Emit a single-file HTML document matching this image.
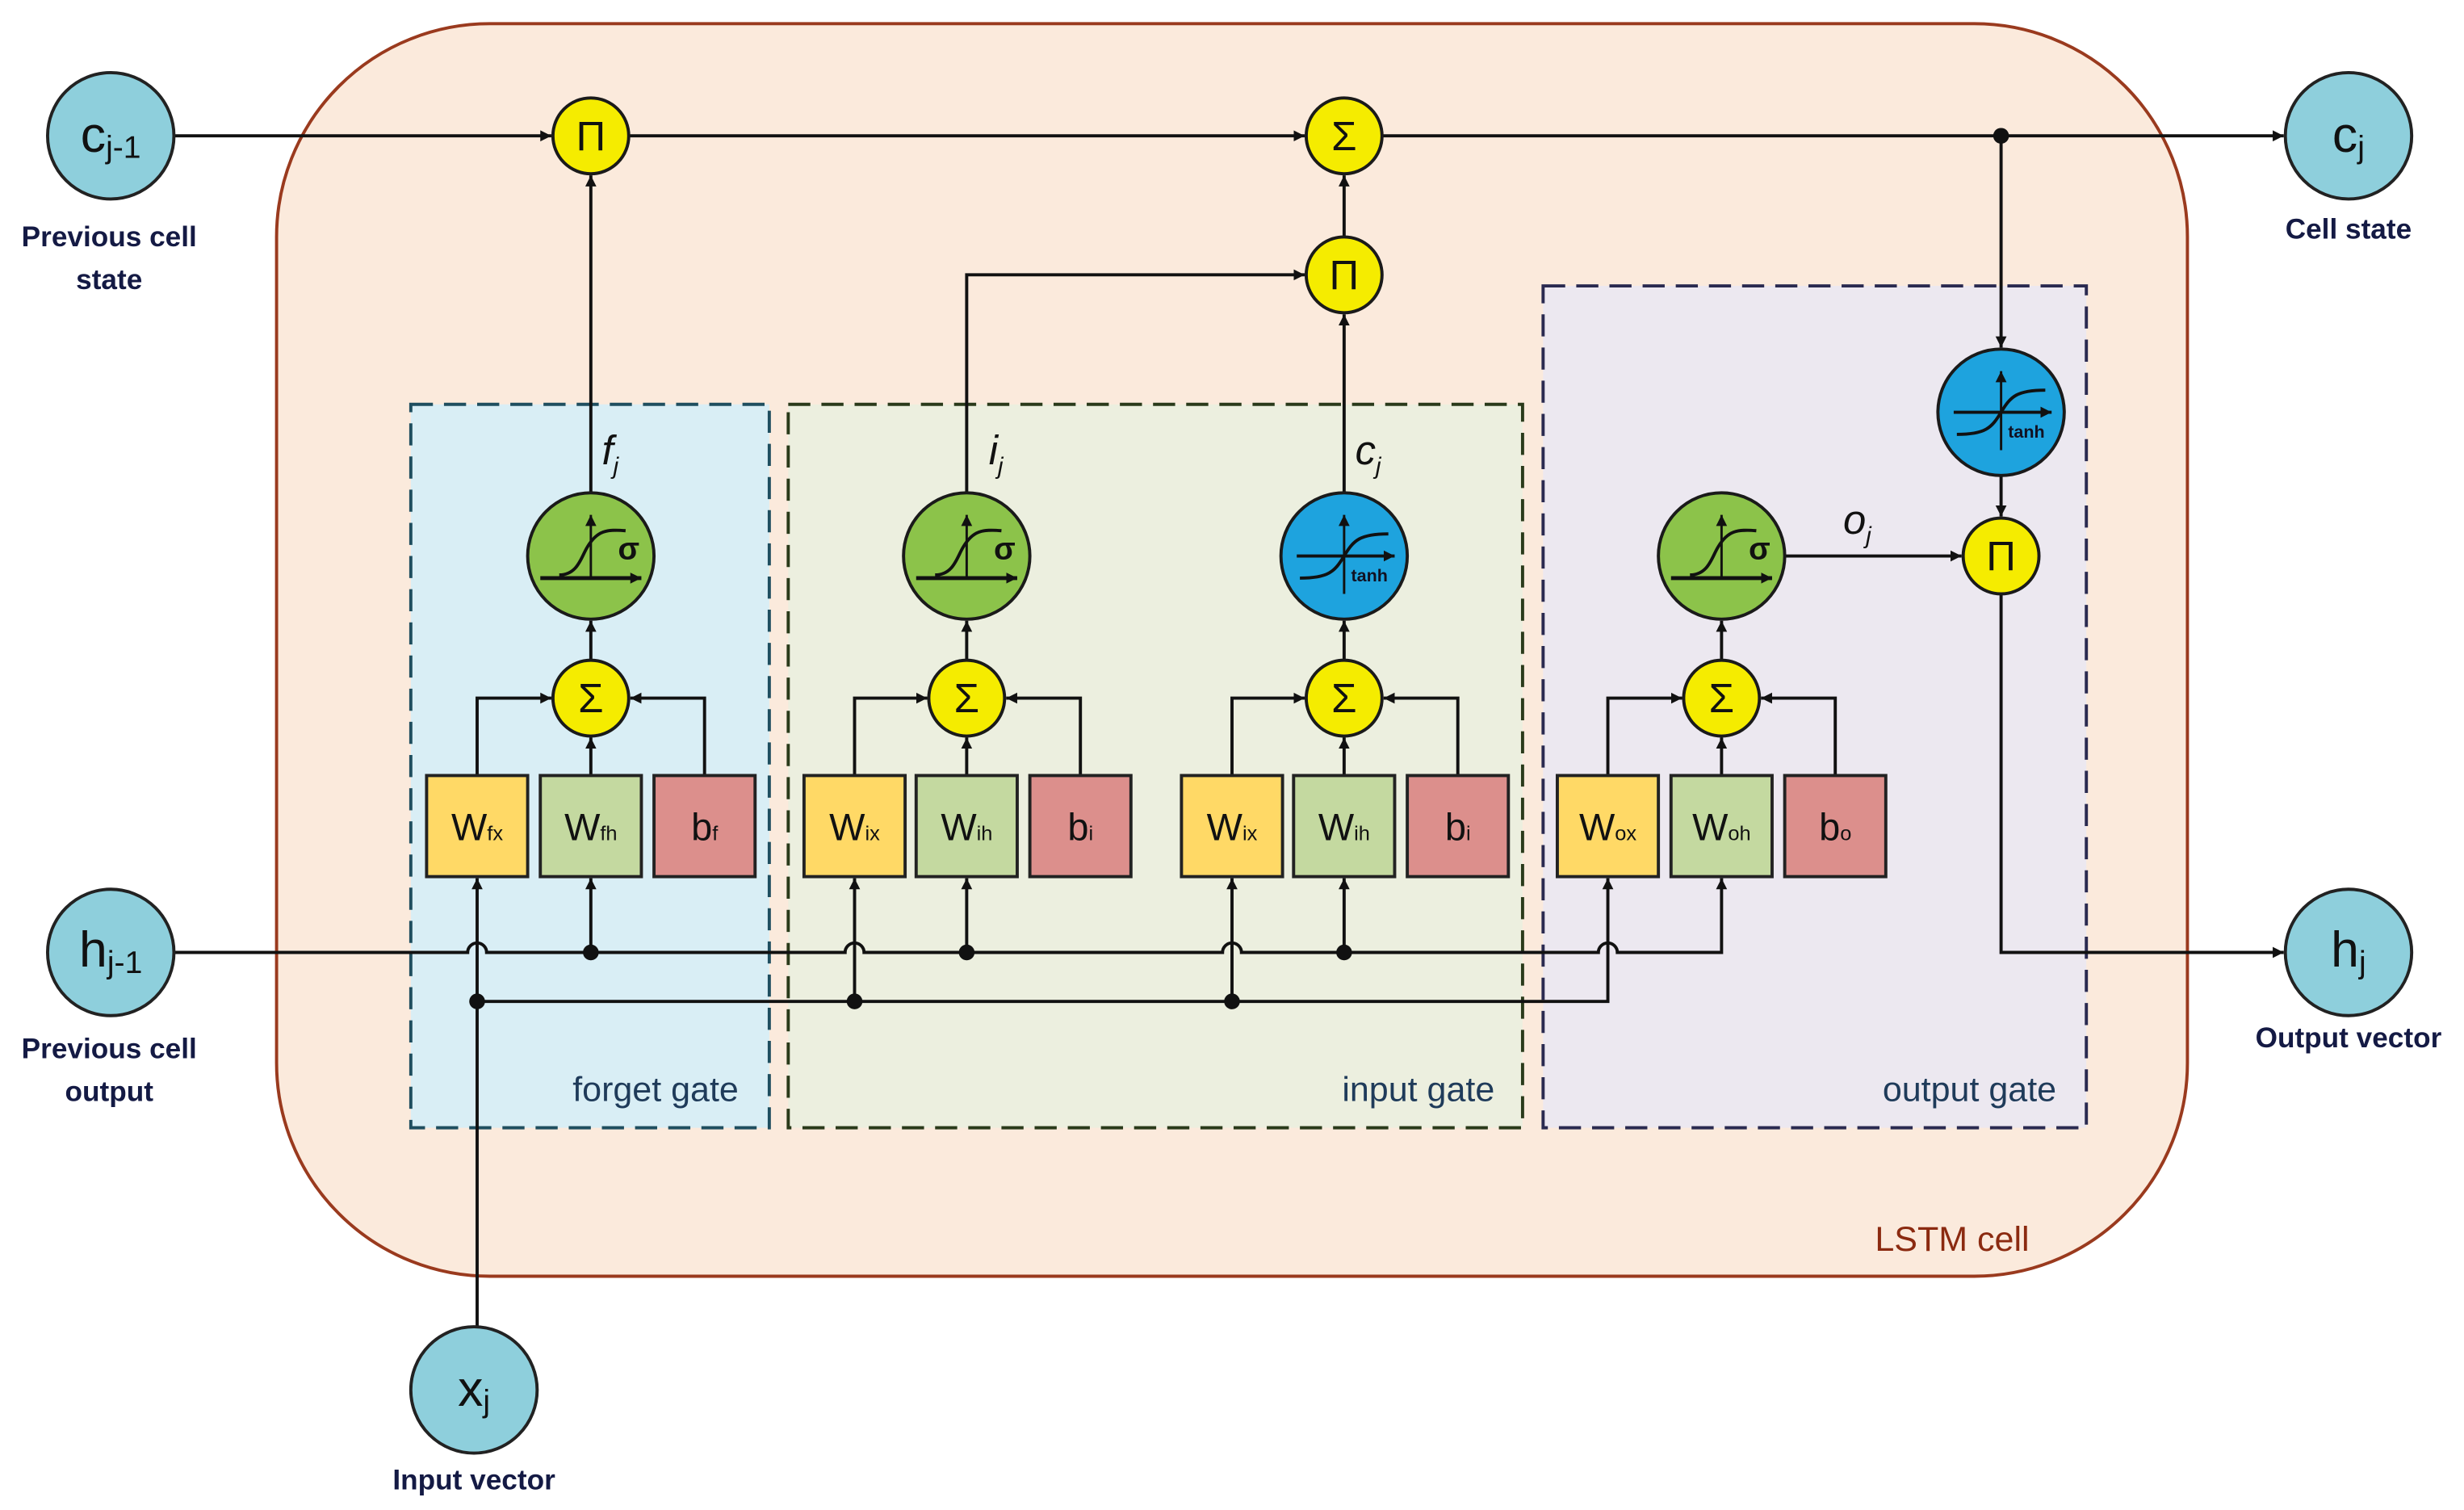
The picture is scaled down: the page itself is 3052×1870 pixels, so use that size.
<!DOCTYPE html>
<html><head><meta charset="utf-8"><style>
html,body{margin:0;padding:0;background:#fff;}
svg{display:block;}
text{font-family:"Liberation Sans",sans-serif;}
</style></head><body>
<svg width="3052" height="1870" viewBox="0 0 1560 956" xmlns="http://www.w3.org/2000/svg">
<defs>
<marker id="a" markerWidth="8" markerHeight="8" refX="7" refY="4" orient="auto" markerUnits="userSpaceOnUse">
<path d="M0,0.5 L7,4 L0,7.5 Z" fill="#111"/></marker>
<g id="sig">
<circle r="40" fill="#8cc34a" stroke="#1a1a1a" stroke-width="2"/>
<line x1="-32" y1="14" x2="32" y2="14" stroke="#111" stroke-width="2.5" marker-end="url(#a)"/>
<line x1="0" y1="14" x2="0" y2="-26" stroke="#111" stroke-width="1.5" marker-end="url(#a)"/>
<path d="M-20,12 C-8,12 -6,0 -2,-6 C4,-16 10,-17 22,-16" fill="none" stroke="#111" stroke-width="2"/>
<text x="24" y="2" font-size="20" font-weight="bold" fill="#111" text-anchor="middle">σ</text>
</g>
<g id="tanh">
<circle r="40" fill="#1ea3de" stroke="#1a1a1a" stroke-width="2"/>
<line x1="-30" y1="0" x2="32" y2="0" stroke="#111" stroke-width="2" marker-end="url(#a)"/>
<line x1="0" y1="24" x2="0" y2="-26" stroke="#111" stroke-width="1.5" marker-end="url(#a)"/>
<path d="M-28,14 C-10,14 -6,10 0,0 C6,-10 10,-14 28,-14" fill="none" stroke="#111" stroke-width="2"/>
<text x="16" y="16" font-size="11" font-weight="bold" fill="#112" text-anchor="middle">tanh</text>
</g>
</defs>

<!-- LSTM cell -->
<rect x="175" y="15" width="1210" height="793" rx="135" fill="#fbeadc" stroke="#9a3a1e" stroke-width="2"/>
<text x="1236" y="792" font-size="22" fill="#8b2a10" text-anchor="middle">LSTM cell</text>

<!-- gate boxes -->
<rect x="260" y="256" width="227" height="458" fill="#d9eef5" stroke="#1f4e5f" stroke-width="2" stroke-dasharray="14,7"/>
<rect x="499" y="256" width="465" height="458" fill="#ecefdf" stroke="#2a3a1a" stroke-width="2" stroke-dasharray="14,7"/>
<rect x="977" y="181" width="344" height="533" fill="#ece8f0" stroke="#2a2a50" stroke-width="2" stroke-dasharray="14,7"/>
<text x="415" y="697" font-size="22" fill="#1f3b5a" text-anchor="middle">forget gate</text>
<text x="898" y="697" font-size="22" fill="#1f3b5a" text-anchor="middle">input gate</text>
<text x="1247" y="697" font-size="22" fill="#1f3b5a" text-anchor="middle">output gate</text>

<g stroke="#111" stroke-width="2" fill="none">
<!-- top cell line -->
<line x1="110" y1="86" x2="349" y2="86" marker-end="url(#a)"/>
<line x1="398" y1="86" x2="826" y2="86" marker-end="url(#a)"/>
<line x1="875" y1="86" x2="1446" y2="86" marker-end="url(#a)"/>
<!-- forget -->
<line x1="374" y1="312" x2="374" y2="111" marker-end="url(#a)"/>
<!-- input -->
<polyline points="612,312 612,174 826,174" marker-end="url(#a)"/>
<line x1="851" y1="312" x2="851" y2="199" marker-end="url(#a)"/>
<line x1="851" y1="150" x2="851" y2="111" marker-end="url(#a)"/>
<!-- output -->
<line x1="1267" y1="86" x2="1267" y2="220" marker-end="url(#a)"/>
<line x1="1267" y1="301" x2="1267" y2="327" marker-end="url(#a)"/>
<line x1="1130" y1="352" x2="1242" y2="352" marker-end="url(#a)"/>
<polyline points="1267,376 1267,603 1446,603" marker-end="url(#a)"/>
<!-- sum to act -->
<line x1="374" y1="418" x2="374" y2="393" marker-end="url(#a)"/>
<line x1="612" y1="418" x2="612" y2="393" marker-end="url(#a)"/>
<line x1="851" y1="418" x2="851" y2="393" marker-end="url(#a)"/>
<line x1="1090" y1="418" x2="1090" y2="393" marker-end="url(#a)"/>
<!-- box to sums -->
<polyline points="302,491 302,442 349,442" marker-end="url(#a)"/>
<polyline points="446,491 446,442 399,442" marker-end="url(#a)"/>
<line x1="374" y1="491" x2="374" y2="467" marker-end="url(#a)"/>
<polyline points="541,491 541,442 587,442" marker-end="url(#a)"/>
<polyline points="684,491 684,442 637,442" marker-end="url(#a)"/>
<line x1="612" y1="491" x2="612" y2="467" marker-end="url(#a)"/>
<polyline points="780,491 780,442 826,442" marker-end="url(#a)"/>
<polyline points="923,491 923,442 876,442" marker-end="url(#a)"/>
<line x1="851" y1="491" x2="851" y2="467" marker-end="url(#a)"/>
<polyline points="1018,491 1018,442 1065,442" marker-end="url(#a)"/>
<polyline points="1162,491 1162,442 1115,442" marker-end="url(#a)"/>
<line x1="1090" y1="491" x2="1090" y2="467" marker-end="url(#a)"/>
<!-- h line with hops -->
<path d="M110,603 H296 A6,6 0 0 1 308,603 H535 A6,6 0 0 1 547,603 H774 A6,6 0 0 1 786,603 H1012 A6,6 0 0 1 1024,603 H1090 V556" marker-end="url(#a)"/>
<line x1="374" y1="603" x2="374" y2="556" marker-end="url(#a)"/>
<line x1="612" y1="603" x2="612" y2="556" marker-end="url(#a)"/>
<line x1="851" y1="603" x2="851" y2="556" marker-end="url(#a)"/>
<!-- x line -->
<line x1="302" y1="840" x2="302" y2="556" marker-end="url(#a)"/>
<polyline points="302,634 1018,634 1018,556" marker-end="url(#a)"/>
<line x1="541" y1="634" x2="541" y2="556" marker-end="url(#a)"/>
<line x1="780" y1="634" x2="780" y2="556" marker-end="url(#a)"/>
</g>
<g fill="#111">
<circle cx="1267" cy="86" r="5"/>
<circle cx="374" cy="603" r="5"/><circle cx="612" cy="603" r="5"/><circle cx="851" cy="603" r="5"/>
<circle cx="302" cy="634" r="5"/><circle cx="541" cy="634" r="5"/><circle cx="780" cy="634" r="5"/>
</g>

<!-- operator circles -->
<g stroke="#1a1a1a" stroke-width="2" fill="#f5ec00">
<circle cx="374" cy="86" r="24"/><circle cx="851" cy="86" r="24"/><circle cx="851" cy="174" r="24"/>
<circle cx="1267" cy="352" r="24"/>
<circle cx="374" cy="442" r="24"/><circle cx="612" cy="442" r="24"/><circle cx="851" cy="442" r="24"/><circle cx="1090" cy="442" r="24"/>
</g>
<g font-size="26" fill="#111" text-anchor="middle">
<text x="374" y="95">Π</text><text x="851" y="183">Π</text><text x="1267" y="361">Π</text>
<text x="851" y="95">Σ</text><text x="374" y="451">Σ</text><text x="612" y="451">Σ</text><text x="851" y="451">Σ</text><text x="1090" y="451">Σ</text>
</g>

<use href="#sig" x="374" y="352"/>
<use href="#sig" x="612" y="352"/>
<use href="#sig" x="1090" y="352"/>
<use href="#tanh" x="851" y="352"/>
<use href="#tanh" x="1267" y="261"/>

<!-- weight boxes -->
<g stroke="#222" stroke-width="2">
<rect x="270" y="491" width="64" height="64" fill="#ffd966"/><rect x="342" y="491" width="64" height="64" fill="#c4d9a0"/><rect x="414" y="491" width="64" height="64" fill="#dc8f8c"/>
<rect x="509" y="491" width="64" height="64" fill="#ffd966"/><rect x="580" y="491" width="64" height="64" fill="#c4d9a0"/><rect x="652" y="491" width="64" height="64" fill="#dc8f8c"/>
<rect x="748" y="491" width="64" height="64" fill="#ffd966"/><rect x="819" y="491" width="64" height="64" fill="#c4d9a0"/><rect x="891" y="491" width="64" height="64" fill="#dc8f8c"/>
<rect x="986" y="491" width="64" height="64" fill="#ffd966"/><rect x="1058" y="491" width="64" height="64" fill="#c4d9a0"/><rect x="1130" y="491" width="64" height="64" fill="#dc8f8c"/>
</g>
<g font-size="24" fill="#111" text-anchor="middle">
<text x="302" y="532">W<tspan font-size="13">fx</tspan></text>
<text x="374" y="532">W<tspan font-size="13">fh</tspan></text>
<text x="446" y="532">b<tspan font-size="13">f</tspan></text>
<text x="541" y="532">W<tspan font-size="13">ix</tspan></text>
<text x="612" y="532">W<tspan font-size="13">ih</tspan></text>
<text x="684" y="532">b<tspan font-size="13">i</tspan></text>
<text x="780" y="532">W<tspan font-size="13">ix</tspan></text>
<text x="851" y="532">W<tspan font-size="13">ih</tspan></text>
<text x="923" y="532">b<tspan font-size="13">i</tspan></text>
<text x="1018" y="532">W<tspan font-size="13">ox</tspan></text>
<text x="1090" y="532">W<tspan font-size="13">oh</tspan></text>
<text x="1162" y="532">b<tspan font-size="13">o</tspan></text>
</g>

<!-- italic labels -->
<g font-family="Liberation Serif,serif" font-style="italic" font-size="26" fill="#111">
<text x="381" y="294">f<tspan font-size="15" dy="6">j</tspan></text>
<text x="626" y="294">i<tspan font-size="15" dy="6">j</tspan></text>
<text x="858" y="294">c<tspan font-size="15" dy="6">j</tspan></text>
<text x="1167" y="338">o<tspan font-size="15" dy="6">j</tspan></text>
</g>

<!-- external nodes -->
<g stroke="#222" stroke-width="2" fill="#8ecfdc">
<circle cx="70" cy="86" r="40"/><circle cx="1487" cy="86" r="40"/>
<circle cx="70" cy="603" r="40"/><circle cx="1487" cy="603" r="40"/>
<circle cx="300" cy="880" r="40"/>
</g>
<g font-size="32" fill="#111" text-anchor="middle">
<text x="70" y="96">c<tspan font-size="20" dy="4">j-1</tspan></text>
<text x="1487" y="96">c<tspan font-size="20" dy="4">j</tspan></text>
<text x="70" y="612">h<tspan font-size="20" dy="4">j-1</tspan></text>
<text x="1487" y="612">h<tspan font-size="20" dy="4">j</tspan></text>
<text x="300" y="890">x<tspan font-size="20" dy="4">j</tspan></text>
</g>
<g font-size="18" font-weight="bold" fill="#141a44" text-anchor="middle">
<text x="69" y="156">Previous cell</text><text x="69" y="183">state</text>
<text x="1487" y="151">Cell state</text>
<text x="69" y="670">Previous cell</text><text x="69" y="697">output</text>
<text x="1487" y="663">Output vector</text>
<text x="300" y="943">Input vector</text>
</g>
</svg>
</body></html>
